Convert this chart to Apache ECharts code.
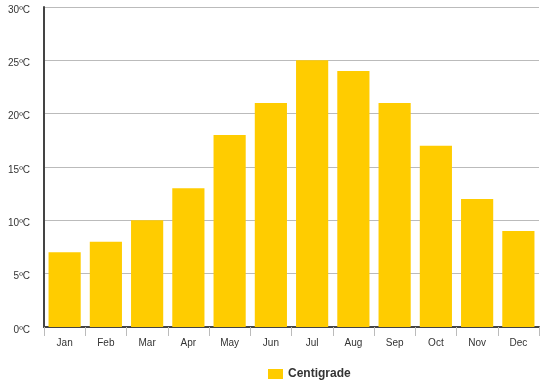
<!DOCTYPE html>
<html><head><meta charset="utf-8">
<script src="https://cdn.jsdelivr.net/npm/echarts@6/dist/echarts.min.js"></script>
<style>html,body{margin:0;padding:0;background:#fff}#c{width:545px;height:385px}</style>
</head><body><div id="c"></div>
<script>
const months = ['Jan','Feb','Mar','Apr','May','Jun','Jul','Aug','Sep','Oct','Nov','Dec'];
const centigrade = [7,8,10,13,18,21,25,24,21,17,12,9];
const seriesName = 'Centigrade';
const chart = echarts.init(document.getElementById('c'));
chart.setOption({
  animation:false,
  textStyle:{fontFamily:'Liberation Sans, Arial, sans-serif'},
  grid:{left:44,right:6,top:7,bottom:58,containLabel:false},
  legend:{bottom:0,left:263,icon:'rect',itemWidth:15,itemHeight:10,itemGap:6,
    textStyle:{fontSize:12,fontWeight:'bold',color:'#333'},data:[seriesName]},
  xAxis:{type:'category',data:months,
    axisLine:{lineStyle:{color:'#444',width:2}},
    axisTick:{show:true,length:9,lineStyle:{color:'#bbb'}},
    axisLabel:{color:'#333',fontSize:10,margin:11}},
  yAxis:{type:'value',min:0,max:30,interval:5,
    axisLine:{show:true,lineStyle:{color:'#444',width:2}},
    axisTick:{show:false},
    axisLabel:{color:'#333',fontSize:10,margin:14,formatter:v=>'{a|'+v+'ºC}',
      rich:{a:{fontSize:10,color:'#333',padding:[6,0,0,0]}}},
    splitLine:{lineStyle:{color:'#bbb'}}},
  series:[{name:seriesName,type:'bar',data:centigrade,barCategoryGap:'22%',
    itemStyle:{color:'#FFCC00'}}]
});
</script></body></html>
